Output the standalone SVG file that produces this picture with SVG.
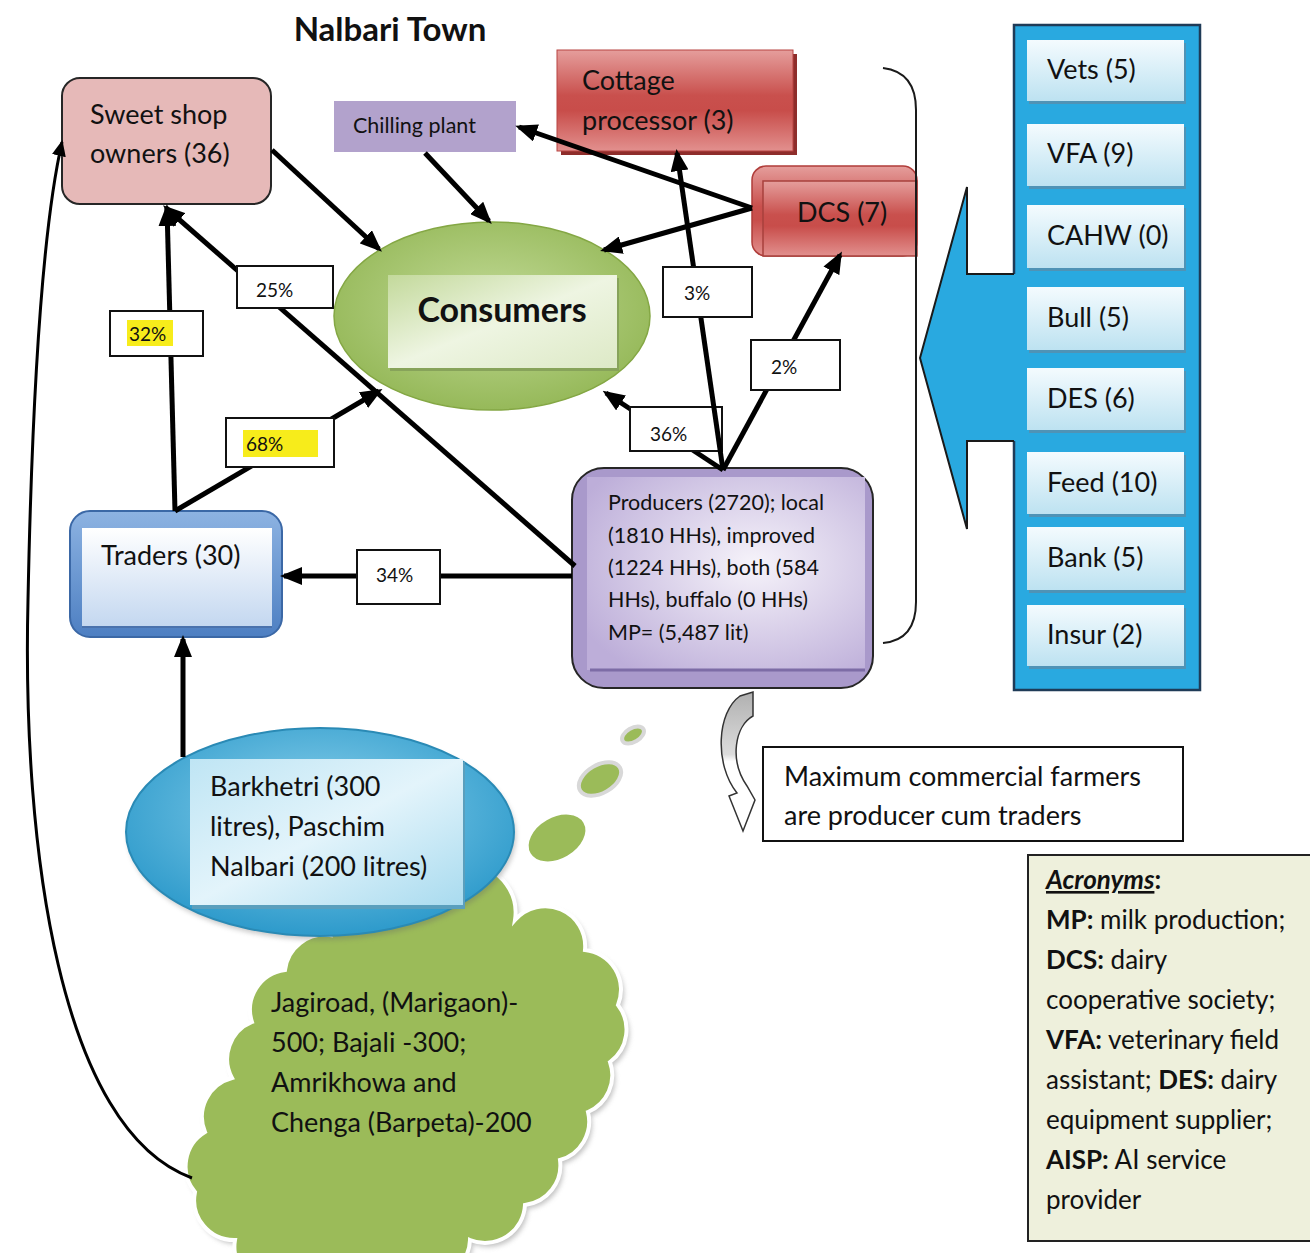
<svg xmlns="http://www.w3.org/2000/svg" width="1310" height="1253" viewBox="0 0 1310 1253">
  <style>
    text { font-family: Lato, "Liberation Sans", sans-serif; fill: #111; }
    .lbl { font-size: 27px; }
    .pct { font-size: 19px; }
    .prd { font-size: 21.5px; }
    .acr { font-size: 26px; }
    .b { font-weight: bold; }
    .conn { stroke: #000; stroke-width: 5; fill: none; marker-end: url(#ah); }
    .pbox { fill: #fff; stroke: #111; stroke-width: 2; }
    .hl { fill: #f7ec1b; }
    .svc { fill: url(#svcGrad); }
    .svcShadow { fill: #4f93b6; }
  </style>
  <defs>
    <marker id="ah" markerUnits="userSpaceOnUse" markerWidth="22" markerHeight="18" viewBox="0 0 22 18" refX="18" refY="9" orient="auto">
      <path d="M0,0 L22,9 L0,18 z" fill="#000"/>
    </marker>
    <marker id="ahs" markerUnits="userSpaceOnUse" markerWidth="16" markerHeight="14" viewBox="0 0 16 14" refX="14" refY="7" orient="auto">
      <path d="M0,0 L16,7 L0,14 z" fill="#000"/>
    </marker>
    <linearGradient id="redGrad" x1="0" y1="0" x2="0" y2="1">
      <stop offset="0" stop-color="#e59e9c"/>
      <stop offset="0.45" stop-color="#c9504d"/>
      <stop offset="0.6" stop-color="#c84d4a"/>
      <stop offset="1" stop-color="#e2908e"/>
    </linearGradient>
    <radialGradient id="greenGrad" cx="0.5" cy="0.45" r="0.6">
      <stop offset="0" stop-color="#c2da97"/>
      <stop offset="1" stop-color="#92b654"/>
    </radialGradient>
    <linearGradient id="greenInner" x1="0" y1="0" x2="1" y2="1">
      <stop offset="0" stop-color="#c3d99b"/>
      <stop offset="0.5" stop-color="#eef5e2"/>
      <stop offset="1" stop-color="#dde9c6"/>
    </linearGradient>
    <linearGradient id="tradersFrame" x1="0" y1="0" x2="0" y2="1">
      <stop offset="0" stop-color="#8db3e2"/>
      <stop offset="1" stop-color="#4d7fc2"/>
    </linearGradient>
    <linearGradient id="tradersInner" x1="0" y1="0" x2="0" y2="1">
      <stop offset="0" stop-color="#ffffff"/>
      <stop offset="1" stop-color="#c3d7f0"/>
    </linearGradient>
    <radialGradient id="prodInner" cx="0.6" cy="0.45" r="0.7">
      <stop offset="0" stop-color="#f6f3fa"/>
      <stop offset="1" stop-color="#bdaed9"/>
    </radialGradient>
    <radialGradient id="blueEll" cx="0.5" cy="0.4" r="0.6">
      <stop offset="0" stop-color="#8dd2ec"/>
      <stop offset="1" stop-color="#2d9acb"/>
    </radialGradient>
    <linearGradient id="blueInner" x1="0" y1="0" x2="1" y2="1">
      <stop offset="0" stop-color="#bfe5f4"/>
      <stop offset="0.5" stop-color="#e3f4fb"/>
      <stop offset="1" stop-color="#a9dbef"/>
    </linearGradient>
    <linearGradient id="svcGrad" x1="0" y1="0" x2="0" y2="1">
      <stop offset="0" stop-color="#f4fbfe"/>
      <stop offset="1" stop-color="#bde2f1"/>
    </linearGradient>
    <linearGradient id="curlGrad" x1="0" y1="0" x2="0" y2="1">
      <stop offset="0" stop-color="#b0b0b0"/>
      <stop offset="0.45" stop-color="#dcdcdc"/>
      <stop offset="0.5" stop-color="#ffffff"/>
      <stop offset="1" stop-color="#ffffff"/>
    </linearGradient>
    <filter id="soft" x="-10%" y="-10%" width="120%" height="120%">
      <feGaussianBlur stdDeviation="2.5"/>
    </filter>
    <path id="cloudShape" d="M330,935 A40,40 0 0 1 420,905 A40,40 0 0 1 515,920 A40,40 0 0 1 585,950 A40,40 0 0 1 618,1005 A40,40 0 0 1 610,1062 A40,40 0 0 1 588,1112 A40,40 0 0 1 560,1160 A40,40 0 0 1 525,1205 A40,40 0 0 1 470,1240 A40,40 0 0 1 400,1265 A40,40 0 0 1 310,1265 A40,40 0 0 1 235,1240 A40,40 0 0 1 195,1192 A40,40 0 0 1 205,1132 A40,40 0 0 1 232,1078 A40,40 0 0 1 252,1022 A40,40 0 0 1 285,970 A40,40 0 0 1 330,935 Z"/>
  </defs>

  <rect width="1310" height="1253" fill="#fff"/>

  <!-- title -->
  <text x="390" y="41" text-anchor="middle" font-size="33" class="b">Nalbari Town</text>

  <!-- supplier cloud with thought bubbles -->
  <g id="cloud-sources">
    <use href="#cloudShape" fill="#9a9a9a" opacity="0.6" transform="translate(3,4)" filter="url(#soft)"/>
    <use href="#cloudShape" fill="#9bbb59" stroke="#fff" stroke-width="4"/>
    <ellipse cx="557" cy="838" rx="32" ry="22" transform="rotate(-30 557 838)" fill="#9bbb59" stroke="#fff" stroke-width="3"/>
    <ellipse cx="600" cy="779" rx="23" ry="14" transform="rotate(-30 600 779)" fill="#9bbb59" stroke="#d8d8d8" stroke-width="4"/>
    <ellipse cx="633" cy="735" rx="12" ry="7" transform="rotate(-30 633 735)" fill="#9bbb59" stroke="#d8d8d8" stroke-width="4"/>
    <text class="lbl" x="271" y="1012">Jagiroad, (Marigaon)-</text>
    <text class="lbl" x="271" y="1052">500; Bajali -300;</text>
    <text class="lbl" x="271" y="1092">Amrikhowa and</text>
    <text class="lbl" x="271" y="1132">Chenga (Barpeta)-200</text>
  </g>

  <!-- local milk sources -->
  <g id="node-barkhetri">
    <ellipse cx="322" cy="836" rx="194" ry="104" fill="#666" opacity="0.35" filter="url(#soft)"/>
    <ellipse cx="320" cy="832" rx="194" ry="104" fill="url(#blueEll)" stroke="#2a8ab5" stroke-width="2"/>
    <rect x="192" y="762" width="273" height="147" fill="#5a9fbd"/>
    <rect x="190" y="759" width="273" height="146" fill="url(#blueInner)"/>
    <text class="lbl" x="210" y="796">Barkhetri (300</text>
    <text class="lbl" x="210" y="836">litres), Paschim</text>
    <text class="lbl" x="210" y="876">Nalbari (200 litres)</text>
  </g>

  <g id="node-sweetshop">
    <rect x="62" y="78" width="209" height="126" rx="18" fill="#e6b9b8" stroke="#262626" stroke-width="2"/>
    <text class="lbl" x="90" y="124">Sweet shop</text>
    <text class="lbl" x="90" y="163">owners (36)</text>
  </g>

  <g id="node-chilling">
    <rect x="334" y="101" width="182" height="51" fill="#b2a2cc"/>
    <text x="353" y="133" font-size="21.5">Chilling plant</text>
  </g>

  <g id="node-cottage">
    <rect x="561" y="54" width="236" height="101" fill="#8e2d2b"/>
    <rect x="557" y="50" width="236" height="101" fill="url(#redGrad)" stroke="#b84542" stroke-width="1"/>
    <text class="lbl" x="582" y="90">Cottage</text>
    <text class="lbl" x="582" y="130">processor (3)</text>
  </g>

  <g id="node-dcs">
    <rect x="752" y="166" width="165" height="90" rx="14" fill="url(#redGrad)" stroke="#b03d3a" stroke-width="1.5"/>
    <rect x="763" y="181" width="154" height="75" fill="url(#redGrad)" stroke="#a8403d" stroke-width="1.5"/>
    <text class="lbl" x="797" y="222">DCS (7)</text>
  </g>

  <g id="node-consumers">
    <ellipse cx="492" cy="316" rx="158" ry="94" fill="url(#greenGrad)" stroke="#84a744" stroke-width="1.5"/>
    <rect x="390" y="278" width="229" height="93" fill="#87a35a"/>
    <rect x="388" y="275" width="229" height="93" fill="url(#greenInner)"/>
    <text x="502" y="322" text-anchor="middle" font-size="34" class="b">Consumers</text>
  </g>

  <g id="node-traders">
    <rect x="70" y="511" width="212" height="126" rx="20" fill="url(#tradersFrame)" stroke="#3b68a6" stroke-width="2"/>
    <rect x="82" y="528" width="190" height="99" fill="url(#tradersInner)"/>
    <line x1="82" y1="627" x2="272" y2="627" stroke="#4a72ad" stroke-width="2"/>
    <text class="lbl" x="101" y="565">Traders (30)</text>
  </g>

  <g id="node-producers">
    <rect x="572" y="468" width="301" height="220" rx="32" fill="#a999cb" stroke="#262626" stroke-width="2"/>
    <rect x="587" y="477" width="278" height="193" fill="url(#prodInner)"/>
    <line x1="590" y1="670" x2="865" y2="670" stroke="#7d6ca6" stroke-width="3"/>
    <text class="prd" x="608" y="510">Producers (2720); local</text>
    <text class="prd" x="608" y="543">(1810 HHs), improved</text>
    <text class="prd" x="608" y="575">(1224 HHs), both (584</text>
    <text class="prd" x="608" y="607">HHs), buffalo (0 HHs)</text>
    <text class="prd" x="608" y="640">MP= (5,487 lit)</text>
  </g>

  <!-- bracket grouping the town actors -->
  <path d="M883,68 Q916,72 916,110 L916,602 Q916,640 883,643" fill="none" stroke="#1a1a1a" stroke-width="2"/>

  <!-- service providers panel and its arrow -->
  <g id="node-services">
    <rect x="1014" y="25" width="186" height="665" fill="#29a9e0" stroke="#1f3b57" stroke-width="2.5"/>
    <polygon points="1018,274 967,274 967,187 920,358 967,529 967,441 1018,441" fill="#29a9e0"/>
    <polyline points="1014,274 967,274 967,187 920,358 967,529 967,441 1014,441" fill="none" stroke="#1a1a1a" stroke-width="2"/>
    <rect class="svcShadow" x="1029" y="43" width="157" height="61"/>
    <rect class="svc" x="1027" y="40" width="157" height="61"/>
    <text class="lbl" x="1047" y="79">Vets (5)</text>
    <rect class="svcShadow" x="1029" y="127" width="157" height="62"/>
    <rect class="svc" x="1027" y="124" width="157" height="62"/>
    <text class="lbl" x="1047" y="163">VFA (9)</text>
    <rect class="svcShadow" x="1029" y="208" width="157" height="63"/>
    <rect class="svc" x="1027" y="205" width="157" height="63"/>
    <text class="lbl" x="1047" y="245">CAHW (0)</text>
    <rect class="svcShadow" x="1029" y="290" width="157" height="63"/>
    <rect class="svc" x="1027" y="287" width="157" height="63"/>
    <text class="lbl" x="1047" y="327">Bull (5)</text>
    <rect class="svcShadow" x="1029" y="371" width="157" height="62"/>
    <rect class="svc" x="1027" y="368" width="157" height="62"/>
    <text class="lbl" x="1047" y="408">DES (6)</text>
    <rect class="svcShadow" x="1029" y="455" width="157" height="62"/>
    <rect class="svc" x="1027" y="452" width="157" height="62"/>
    <text class="lbl" x="1047" y="492">Feed (10)</text>
    <rect class="svcShadow" x="1029" y="530" width="157" height="63"/>
    <rect class="svc" x="1027" y="527" width="157" height="63"/>
    <text class="lbl" x="1047" y="567">Bank (5)</text>
    <rect class="svcShadow" x="1029" y="608" width="157" height="61"/>
    <rect class="svc" x="1027" y="605" width="157" height="61"/>
    <text class="lbl" x="1047" y="644">Insur (2)</text>
  </g>

  <!-- note on producers -->
  <g id="node-note">
    <path d="M740,696 L753,692 L753,716 C735,726 729,760 747,786 L755,800 L743,831 L729,796 L737,793 C714,764 717,712 740,696 Z" fill="url(#curlGrad)" stroke="#333" stroke-width="1.5"/>
    <rect x="763" y="747" width="420" height="94" fill="#fff" stroke="#111" stroke-width="2"/>
    <text class="lbl" x="784" y="786">Maximum commercial farmers</text>
    <text class="lbl" x="784" y="825">are producer cum traders</text>
  </g>

  <!-- acronym legend -->
  <g id="node-acronyms">
    <rect x="1028" y="855" width="290" height="386" fill="#eef0dc" stroke="#222" stroke-width="2"/>
    <text class="acr" x="1046" y="889"><tspan class="b" font-style="italic" text-decoration="underline">Acronyms</tspan><tspan class="b">:</tspan></text>
    <text class="acr" x="1046" y="929"><tspan class="b">MP:</tspan> milk production;</text>
    <text class="acr" x="1046" y="969"><tspan class="b">DCS:</tspan> dairy</text>
    <text class="acr" x="1046" y="1009">cooperative society;</text>
    <text class="acr" x="1046" y="1049"><tspan class="b">VFA:</tspan> veterinary field</text>
    <text class="acr" x="1046" y="1089">assistant; <tspan class="b">DES:</tspan> dairy</text>
    <text class="acr" x="1046" y="1129">equipment supplier;</text>
    <text class="acr" x="1046" y="1169"><tspan class="b">AISP:</tspan> AI service</text>
    <text class="acr" x="1046" y="1209">provider</text>
  </g>

  <!-- flows between actors -->
  <g id="connectors">
    <path d="M192,1178 C60,1130 22,850 28,600 C32,400 42,230 62,142" fill="none" stroke="#000" stroke-width="3" marker-end="url(#ahs)"/>
    <line class="conn" x1="272" y1="150" x2="379" y2="249"/>
    <line class="conn" x1="425" y1="153" x2="489" y2="221"/>
    <line class="conn" x1="752" y1="208" x2="519" y2="127"/>
    <line class="conn" x1="752" y1="208" x2="604" y2="250"/>
    <line class="conn" x1="723" y1="470" x2="840" y2="255"/>
    <line class="conn" x1="723" y1="470" x2="606" y2="393"/>
    <rect class="pbox" x="630" y="407" width="92" height="44"/>
    <text class="pct" x="650" y="441">36%</text>
    <line class="conn" x1="723" y1="470" x2="677" y2="153"/>
    <line class="conn" x1="575" y1="566" x2="166" y2="208"/>
    <line class="conn" x1="175" y1="511" x2="167" y2="208"/>
    <line class="conn" x1="175" y1="511" x2="379" y2="391"/>
    <line class="conn" x1="572" y1="576" x2="284" y2="576"/>
    <line class="conn" x1="183" y1="757" x2="183" y2="639"/>

    <rect class="pbox" x="237" y="266" width="96" height="42"/>
    <text class="pct" x="256" y="297">25%</text>
    <rect class="pbox" x="110" y="311" width="93" height="45"/>
    <rect class="hl" x="127" y="320" width="46" height="26"/>
    <text class="pct" x="129" y="341">32%</text>
    <rect class="pbox" x="226" y="418" width="108" height="49"/>
    <rect class="hl" x="243" y="430" width="75" height="27"/>
    <text class="pct" x="246" y="451">68%</text>
    <rect class="pbox" x="663" y="267" width="89" height="50"/>
    <text class="pct" x="684" y="300">3%</text>
    <rect class="pbox" x="751" y="340" width="89" height="50"/>
    <text class="pct" x="771" y="374">2%</text>
    <rect class="pbox" x="357" y="550" width="83" height="54"/>
    <text class="pct" x="376" y="582">34%</text>
  </g>
</svg>
